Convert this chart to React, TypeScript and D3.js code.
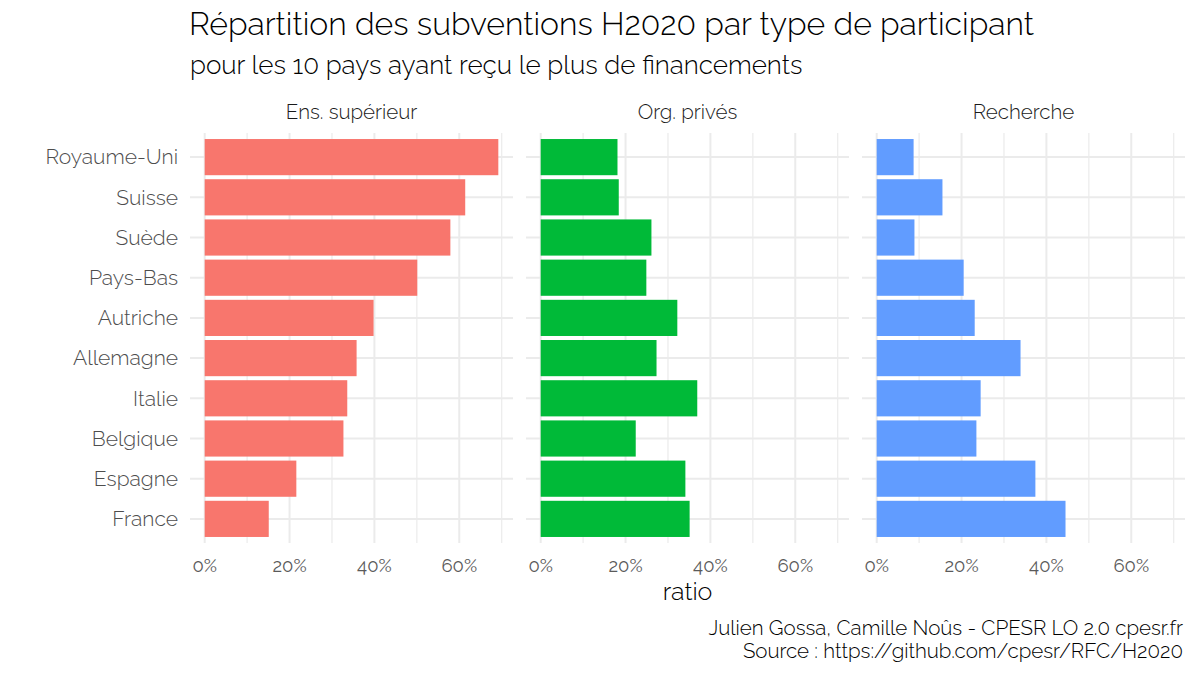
import { useEffect, useRef } from "react";
import * as d3 from "d3";

const countries = [
  "Royaume-Uni",
  "Suisse",
  "Suède",
  "Pays-Bas",
  "Autriche",
  "Allemagne",
  "Italie",
  "Belgique",
  "Espagne",
  "France",
];

const panels = ["Ens. supérieur", "Org. privés", "Recherche"];
const panelColors = ["#F8766D", "#00BA38", "#619CFF"];

// ratio in % for each country, same order as countries
const ensSuperieur = [69.2, 61.4, 57.9, 50.1, 39.8, 35.8, 33.6, 32.7, 21.6, 15.1];
const orgPrives = [18.1, 18.4, 26.1, 24.9, 32.2, 27.3, 36.9, 22.4, 34.1, 35.1];
const recherche = [8.7, 15.5, 8.9, 20.5, 23.1, 33.9, 24.5, 23.5, 37.4, 44.5];

const majorTicks = [0, 20, 40, 60];
const minorTicks = [10, 30, 50, 70];

const title = "Répartition des subventions H2020 par type de participant";
const subtitle = "pour les 10 pays ayant reçu le plus de financements";
const captionLines = [
  "Julien Gossa, Camille Noûs - CPESR LO 2.0 cpesr.fr",
  "Source : https://github.com/cpesr/RFC/H2020",
];

const FONT = "Raleway, Lato, 'Open Sans', sans-serif";

export default function App() {
  const ref = useRef<SVGSVGElement>(null);

  useEffect(() => {
    if (!ref.current) return;
    const width = 1200;
    const height = 675;
    const svg = d3.select(ref.current);
    svg.selectAll("*").remove();
    svg
      .attr("width", width)
      .attr("height", height)
      .attr("viewBox", [0, 0, width, height])
      .style("font-family", FONT)
      .style("background", "white");

    const series = [ensSuperieur, orgPrives, recherche];
    const panelLeft = [190, 526, 862];
    const panelWidth = 323;
    const panelTop = 133;
    const panelBottom = 543;

    const maxVal = d3.max(series.flat()) as number;
    const expand = maxVal * 0.05;

    const y = d3
      .scaleBand()
      .domain(countries)
      .range([panelTop, panelBottom])
      .paddingInner(0.1)
      .paddingOuter(0.15);

    // titles
    svg
      .append("text")
      .attr("x", 189)
      .attr("y", 35)
      .attr("font-size", 32)
      .attr("font-weight", 300)
      .attr("fill", "#000")
      .text(title);
    svg
      .append("text")
      .attr("x", 190)
      .attr("y", 74)
      .attr("font-size", 26)
      .attr("font-weight", 300)
      .attr("fill", "#000")
      .text(subtitle);

    // y axis labels
    svg
      .append("g")
      .selectAll("text")
      .data(countries)
      .join("text")
      .attr("x", 178)
      .attr("y", (d) => (y(d) as number) + y.bandwidth() / 2)
      .attr("dy", "0.35em")
      .attr("text-anchor", "end")
      .attr("font-size", 21)
      .attr("font-weight", 300)
      .attr("fill", "#4d4d4d")
      .text((d) => d);

    panels.forEach((name, pi) => {
      const x = d3
        .scaleLinear()
        .domain([-expand, maxVal + expand])
        .range([panelLeft[pi], panelLeft[pi] + panelWidth]);
      const g = svg.append("g");

      // minor grid
      g.selectAll(".minor")
        .data(minorTicks)
        .join("line")
        .attr("x1", (d) => x(d))
        .attr("x2", (d) => x(d))
        .attr("y1", panelTop)
        .attr("y2", panelBottom)
        .attr("stroke", "#ebebeb")
        .attr("stroke-width", 1.2);

      // major grid
      g.selectAll(".major")
        .data(majorTicks)
        .join("line")
        .attr("x1", (d) => x(d))
        .attr("x2", (d) => x(d))
        .attr("y1", panelTop)
        .attr("y2", panelBottom)
        .attr("stroke", "#ebebeb")
        .attr("stroke-width", 2);

      // horizontal grid
      g.selectAll(".hgrid")
        .data(countries)
        .join("line")
        .attr("x1", panelLeft[pi])
        .attr("x2", panelLeft[pi] + panelWidth)
        .attr("y1", (d) => (y(d) as number) + y.bandwidth() / 2)
        .attr("y2", (d) => (y(d) as number) + y.bandwidth() / 2)
        .attr("stroke", "#ebebeb")
        .attr("stroke-width", 2);

      // bars
      g.selectAll("rect")
        .data(series[pi].map((v, i) => ({ country: countries[i], v })))
        .join("rect")
        .attr("x", x(0))
        .attr("y", (d) => y(d.country) as number)
        .attr("width", (d) => x(d.v) - x(0))
        .attr("height", y.bandwidth())
        .attr("fill", panelColors[pi]);

      // strip label
      g.append("text")
        .attr("x", panelLeft[pi] + panelWidth / 2)
        .attr("y", 119)
        .attr("text-anchor", "middle")
        .attr("font-size", 20.5)
        .attr("font-weight", 300)
        .attr("fill", "#1a1a1a")
        .text(name);

      // x tick labels
      g.selectAll(".tick")
        .data(majorTicks)
        .join("text")
        .attr("x", (d) => x(d))
        .attr("y", 572)
        .attr("text-anchor", "middle")
        .attr("font-size", 18.5)
        .attr("fill", "#5a5a5a")
        .text((d) => `${d}%`);
    });

    // x axis title
    svg
      .append("text")
      .attr("x", (panelLeft[0] + panelLeft[2] + panelWidth) / 2)
      .attr("y", 600)
      .attr("text-anchor", "middle")
      .attr("font-size", 25)
      .attr("font-weight", 300)
      .attr("fill", "#000")
      .text("ratio");

    // caption
    svg
      .append("g")
      .selectAll("text")
      .data(captionLines)
      .join("text")
      .attr("x", 1183)
      .attr("y", (_, i) => 635 + i * 23)
      .attr("text-anchor", "end")
      .attr("font-size", 20.5)
      .attr("font-weight", 300)
      .attr("fill", "#000")
      .text((d) => d);
  }, []);

  return (
    <div style={{ margin: -8 }}>
      <svg ref={ref} />
    </div>
  );
}
